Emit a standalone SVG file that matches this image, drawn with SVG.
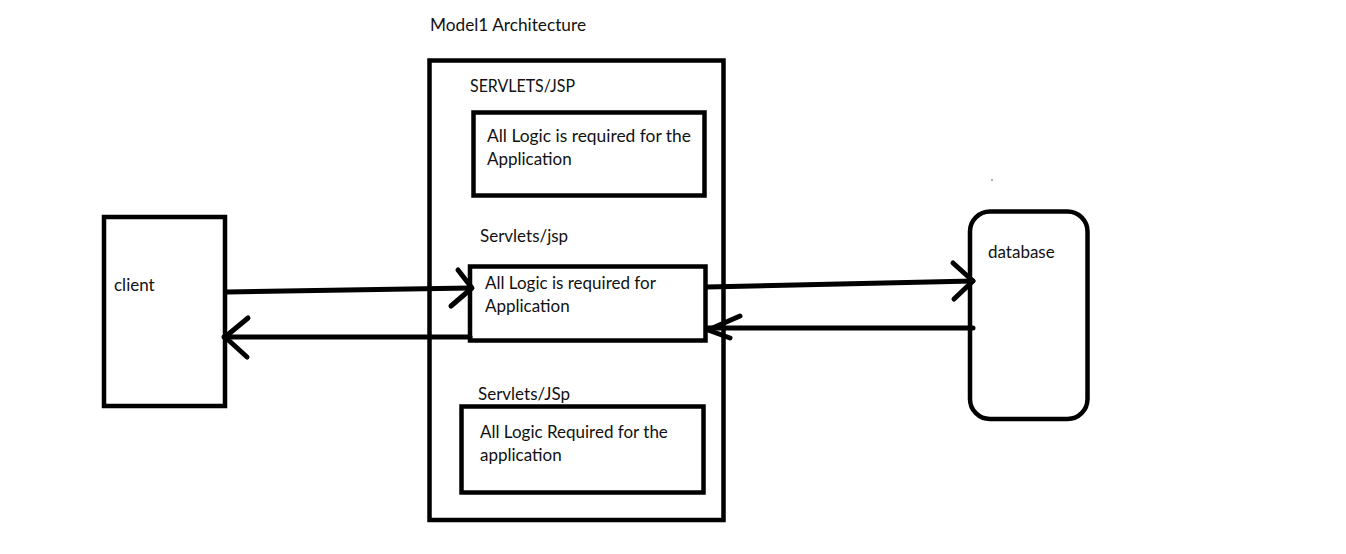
<svg xmlns="http://www.w3.org/2000/svg" width="1346" height="554" viewBox="0 0 1346 554">
<style>
.box{fill:none;stroke:#000;stroke-width:4.5}
.ln{fill:none;stroke:#000;stroke-width:5;stroke-linecap:round;stroke-linejoin:round}
text{font-family:Lato,"Liberation Sans",sans-serif;font-size:17px;fill:#111}
</style>
<rect width="1346" height="554" fill="#fff"/>
<text x="430" y="31" textLength="156" lengthAdjust="spacingAndGlyphs">Model1 Architecture</text>
<g id="container">
<rect class="box" x="429.5" y="60.5" width="294" height="459.5"/>
</g>
<g id="servlets1">
<text x="470" y="92" textLength="105" lengthAdjust="spacingAndGlyphs">SERVLETS/JSP</text>
<rect class="box" x="473.5" y="112.5" width="231" height="83"/>
<text x="487" y="142" textLength="204" lengthAdjust="spacingAndGlyphs">All Logic is required for the</text>
<text x="487" y="165">Application</text>
</g>
<g id="servlets2">
<text x="480" y="242">Servlets/jsp</text>
<rect class="box" x="470" y="266.5" width="235.5" height="74"/>
<text x="485" y="289">All Logic is required for</text>
<text x="485" y="312">Application</text>
</g>
<g id="servlets3">
<text x="478" y="400">Servlets/JSp</text>
<rect class="box" x="461.5" y="406.5" width="242" height="86"/>
<text x="480" y="438">All Logic Required for the</text>
<text x="480" y="461">application</text>
</g>
<g id="client">
<rect class="box" x="104" y="217" width="121" height="189"/>
<text x="114" y="291">client</text>
</g>
<g id="database">
<rect class="box" x="970" y="211.5" width="117.5" height="207.5" rx="20" ry="20"/>
<text x="988" y="258">database</text>
<circle cx="992" cy="180" r="0.8" fill="#555"/>
</g>
<g id="connectors">
<path class="ln" d="M227 292 L470 288"/>
<path class="ln" d="M458 270 L472 288 L451 306"/>
<path class="ln" d="M470 337 L224 337"/>
<path class="ln" d="M248 318 L225 337 L247 357"/>
<path class="ln" d="M707 287 L973 281"/>
<path class="ln" d="M953 263 L973 281 L954 299"/>
<path class="ln" d="M973 328 L708 328"/>
<path class="ln" d="M740 316 L708 330 L730 338"/>
</g>
</svg>
